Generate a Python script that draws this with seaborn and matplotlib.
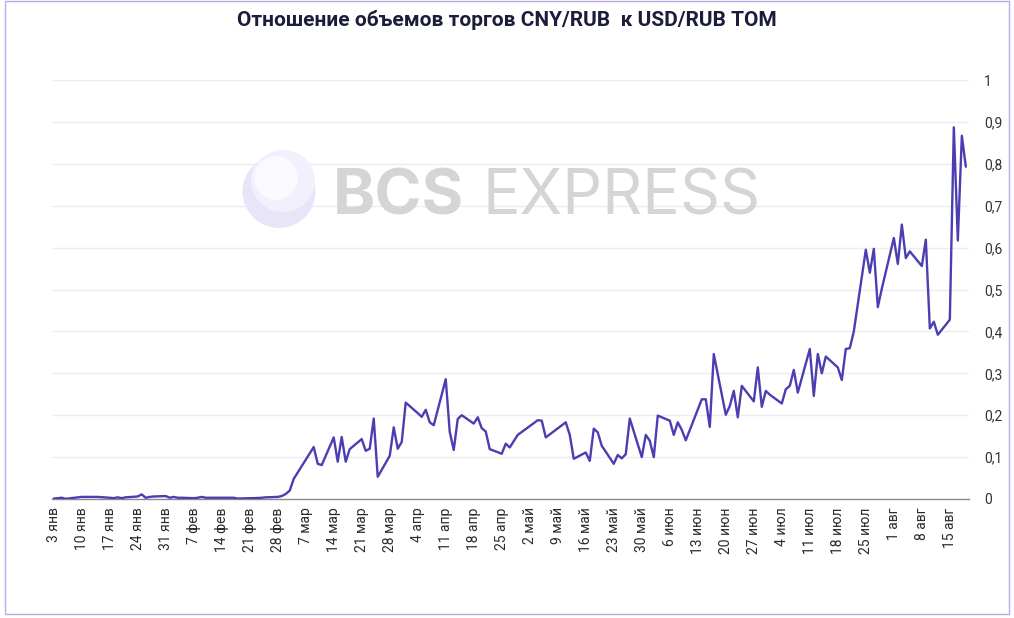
import matplotlib
matplotlib.use("Agg")
import matplotlib.pyplot as plt
import seaborn as sns
import pandas as pd
from matplotlib.patches import Ellipse, Rectangle

# ---------------- data ----------------
dates = [
    "2022-01-03", "2022-01-04", "2022-01-05", "2022-01-06", "2022-01-10", "2022-01-11",
    "2022-01-12", "2022-01-13", "2022-01-14", "2022-01-17", "2022-01-18", "2022-01-19",
    "2022-01-20", "2022-01-21", "2022-01-24", "2022-01-25", "2022-01-26", "2022-01-27",
    "2022-01-28", "2022-01-31",
    "2022-02-01", "2022-02-02", "2022-02-03", "2022-02-04", "2022-02-07", "2022-02-08",
    "2022-02-09", "2022-02-10", "2022-02-11", "2022-02-14", "2022-02-15", "2022-02-16",
    "2022-02-17", "2022-02-18", "2022-02-21", "2022-02-22", "2022-02-24", "2022-02-25",
    "2022-02-28",
    "2022-03-01", "2022-03-02", "2022-03-03", "2022-03-04", "2022-03-09", "2022-03-10",
    "2022-03-11", "2022-03-14", "2022-03-15", "2022-03-16", "2022-03-17", "2022-03-18",
    "2022-03-21", "2022-03-22", "2022-03-23", "2022-03-24", "2022-03-25", "2022-03-28",
    "2022-03-29", "2022-03-30", "2022-03-31",
    "2022-04-01", "2022-04-04", "2022-04-05", "2022-04-06", "2022-04-07", "2022-04-08",
    "2022-04-11", "2022-04-12", "2022-04-13", "2022-04-14", "2022-04-15", "2022-04-18",
    "2022-04-19", "2022-04-20", "2022-04-21", "2022-04-22", "2022-04-25", "2022-04-26",
    "2022-04-27", "2022-04-28", "2022-04-29",
    "2022-05-04", "2022-05-05", "2022-05-06", "2022-05-11", "2022-05-12", "2022-05-13",
    "2022-05-16", "2022-05-17", "2022-05-18", "2022-05-19", "2022-05-20", "2022-05-23",
    "2022-05-24", "2022-05-25", "2022-05-26", "2022-05-27", "2022-05-30", "2022-05-31",
    "2022-06-01", "2022-06-02", "2022-06-03", "2022-06-06", "2022-06-07", "2022-06-08",
    "2022-06-09", "2022-06-10", "2022-06-14", "2022-06-15", "2022-06-16", "2022-06-17",
    "2022-06-20", "2022-06-21", "2022-06-22", "2022-06-23", "2022-06-24", "2022-06-27",
    "2022-06-28", "2022-06-29", "2022-06-30",
    "2022-07-01", "2022-07-04", "2022-07-05", "2022-07-06", "2022-07-07", "2022-07-08",
    "2022-07-11", "2022-07-12", "2022-07-13", "2022-07-14", "2022-07-15", "2022-07-18",
    "2022-07-19", "2022-07-20", "2022-07-21", "2022-07-22", "2022-07-25", "2022-07-26",
    "2022-07-27", "2022-07-28", "2022-07-29",
    "2022-08-01", "2022-08-02", "2022-08-03", "2022-08-04", "2022-08-05", "2022-08-08",
    "2022-08-09", "2022-08-10", "2022-08-11", "2022-08-12", "2022-08-15", "2022-08-16",
    "2022-08-17", "2022-08-18", "2022-08-19",
]
values = [
    0.001, 0.002, 0.003, 0.0005, 0.005, 0.005,
    0.005, 0.005, 0.005, 0.003, 0.002, 0.004,
    0.002, 0.004, 0.006, 0.011, 0.003, 0.005,
    0.006, 0.007,
    0.003, 0.005, 0.003, 0.003, 0.002, 0.003,
    0.005, 0.003, 0.003, 0.003, 0.003, 0.003,
    0.003, 0.001, 0.002, 0.002, 0.003, 0.004,
    0.005,
    0.007, 0.012, 0.020, 0.048, 0.124, 0.084,
    0.081, 0.147, 0.089, 0.148, 0.089, 0.119,
    0.143, 0.115, 0.120, 0.192, 0.053, 0.103,
    0.171, 0.120, 0.136,
    0.230, 0.205, 0.196, 0.213, 0.183, 0.176,
    0.286, 0.160, 0.117, 0.191, 0.200, 0.180,
    0.195, 0.169, 0.161, 0.119, 0.108, 0.132,
    0.123, 0.138, 0.153,
    0.188, 0.187, 0.147, 0.183, 0.153, 0.096,
    0.111, 0.091, 0.168, 0.159, 0.127, 0.084,
    0.105, 0.097, 0.107, 0.192, 0.100, 0.153,
    0.139, 0.100, 0.199, 0.187, 0.153, 0.183,
    0.165, 0.140, 0.238, 0.238, 0.172, 0.346,
    0.201, 0.222, 0.258, 0.195, 0.270, 0.233,
    0.314, 0.220, 0.258,
    0.249, 0.228, 0.262, 0.270, 0.308, 0.254,
    0.358, 0.246, 0.346, 0.300, 0.340, 0.314,
    0.284, 0.358, 0.360, 0.400, 0.595, 0.540,
    0.597, 0.458, 0.502,
    0.623, 0.561, 0.655, 0.575, 0.591, 0.556,
    0.619, 0.407, 0.423, 0.392, 0.428, 0.887,
    0.617, 0.867, 0.793,
]
title = "Отношение объемов торгов CNY/RUB  к USD/RUB TOM"
y_ticks = [0, 0.1, 0.2, 0.3, 0.4, 0.5, 0.6, 0.7, 0.8, 0.9, 1.0]
y_labels = ["0", "0,1", "0,2", "0,3", "0,4", "0,5", "0,6", "0,7", "0,8", "0,9", "1"]
month_abbr = ["янв", "фев", "мар", "апр", "май", "июн", "июл", "авг"]
tick_start, tick_end = "2022-01-03", "2022-08-15"

# ---------------- style ----------------
sns.set_theme(style="white")
plt.rcParams["font.family"] = ["Roboto", "DejaVu Sans"]

W, H = 1014, 618
fig = plt.figure(figsize=(W / 100, H / 100), dpi=100)
fig.patch.set_facecolor("white")

L, R, T, B = 52, 969, 80, 499
ax = fig.add_axes([L / W, 1 - B / H, (R - L) / W, (B - T) / H])
ax.set_facecolor("none")

df = pd.DataFrame({"date": pd.to_datetime(dates), "ratio": values})
sns.lineplot(data=df, x="date", y="ratio", ax=ax, color="#4b3db2",
             linewidth=1.7, zorder=3)

ax.set_xlim(pd.Timestamp("2022-01-03") - pd.Timedelta(hours=10),
            pd.Timestamp("2022-08-19") + pd.Timedelta(hours=19))
ax.set_ylim(0, 1)

tick_dates = pd.date_range(tick_start, tick_end, freq="7D")
tick_labels = [f"{d.day} {month_abbr[d.month - 1]}" for d in tick_dates]
ax.set_xticks(tick_dates)
ax.set_xticklabels(tick_labels, rotation=90)
ax.tick_params(axis="x", length=0, pad=6, labelsize=10, colors="#2b2b2b")

ax.yaxis.tick_right()
ax.set_yticks(y_ticks)
ax.set_yticklabels(y_labels)
ax.tick_params(axis="y", length=0, pad=11, labelsize=10, colors="#333333")

ax.grid(axis="y", color="#ececec", linewidth=1)
ax.grid(axis="x", visible=False)
ax.set_axisbelow(True)
for s in ["top", "left", "right"]:
    ax.spines[s].set_visible(False)
ax.spines["bottom"].set_color("#8a8a8a")
ax.spines["bottom"].set_linewidth(1)
ax.set_xlabel("")
ax.set_ylabel("")

# watermark
ax.add_patch(Ellipse((279 / W, 1 - 191.5 / H), 73 / W, 73 / H,
                     transform=fig.transFigure, facecolor="#e8e5f9",
                     edgecolor="none", zorder=0.8))
ax.add_patch(Ellipse((283 / W, 1 - 181 / H), 64 / W, 62 / H,
                     transform=fig.transFigure, facecolor="#f2f0fd",
                     edgecolor="none", zorder=0.85))
ax.add_patch(Ellipse((276 / W, 1 - 178 / H), 44 / W, 44 / H,
                     transform=fig.transFigure, facecolor="#faf9ff",
                     edgecolor="none", zorder=0.86))
ax.text(333 / W, 1 - 215 / H, "BCS", transform=fig.transFigure,
        fontsize=46, fontweight="bold", color="#d5d5d5", ha="left",
        va="baseline", family=["Inter", "DejaVu Sans"], zorder=0.9)
ax.text(482 / W, 1 - 215 / H, "EXPRESS", transform=fig.transFigure,
        fontsize=45, fontweight="normal", color="#d5d5d5", ha="left",
        va="baseline", family=["Inter", "DejaVu Sans"], zorder=0.9)

# title
fig.text(0.5, 1 - 20 / H, title, ha="center", va="center", fontsize=15,
         fontweight="bold", color="#1b1d3a")

# outer border
fig.patches.append(Rectangle((5 / W, 4 / H), 1004 / W, 613 / H,
                             transform=fig.transFigure, fill=False,
                             edgecolor="#b8ade6", linewidth=1))

fig.savefig("out.png", dpi=100)
